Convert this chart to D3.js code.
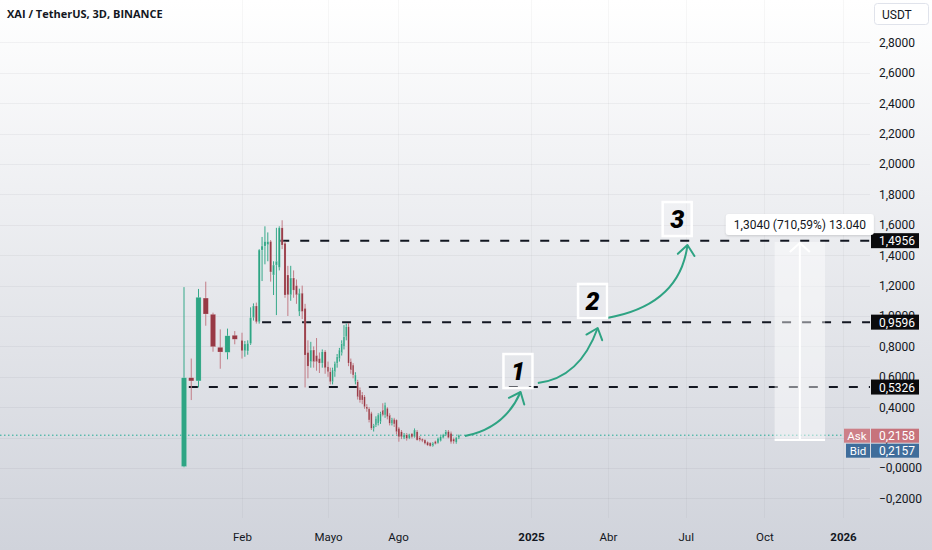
<!DOCTYPE html>
<html>
<head>
<meta charset="utf-8">
<script src="https://cdn.jsdelivr.net/npm/d3@7"></script>
<style>
  body { margin: 0; background: #fff; }
  svg { display: block; font-family: Roboto, "Open Sans", sans-serif; }
</style>
</head>
<body>
<script>
// XAI / USDT, 3 day bars
var firstBar = "2024-01-08";
var barDays = 3;

var opens = [0.01,0.594,0.573,1.118,1.011,0.794,0.761,0.873,0.840,0.772,
  0.77,0.82,0.99,1.066,0.962,1.434,1.46,1.47,1.49,1.27,
  1.335,1.32,1.58,1.478,1.27,1.14,1.25,1.20,1.03,1.15,
  1.05,0.76,0.70,0.776,0.74,0.72,0.69,0.765,0.666,0.633,
  0.568,0.633,0.689,0.72,0.755,0.80,0.864,0.93,0.70,0.677,
  0.568,0.568,0.513,0.48,0.469,0.403,0.39,0.36,0.261,0.283,
  0.294,0.305,0.381,0.349,0.393,0.349,0.294,0.32,0.316,0.261,
  0.239,0.20,0.22,0.197,0.225,0.206,0.239,0.20,0.19,0.184,
  0.17,0.165,0.145,0.175,0.165,0.18,0.20,0.22,0.24,0.228,
  0.19,0.17,0.20];
var highs = [1.19,0.72,1.178,1.226,1.022,0.912,0.917,0.901,0.89,0.836,
  0.84,1.057,1.083,1.088,1.44,1.52,1.59,1.55,1.50,1.36,
  1.58,1.59,1.63,1.49,1.33,1.33,1.30,1.24,1.18,1.20,
  1.08,0.84,0.83,0.80,0.855,0.76,0.78,0.776,0.70,0.66,
  0.66,0.70,0.75,0.79,0.84,0.94,0.95,0.954,0.72,0.69,
  0.63,0.58,0.53,0.50,0.48,0.42,0.40,0.37,0.29,0.34,
  0.36,0.37,0.426,0.43,0.40,0.36,0.33,0.33,0.32,0.27,
  0.25,0.23,0.23,0.225,0.23,0.26,0.25,0.21,0.195,0.19,
  0.175,0.17,0.17,0.18,0.20,0.21,0.225,0.25,0.25,0.24,
  0.20,0.205,0.22];
var lows = [0.005,0.447,0.53,0.936,0.765,0.653,0.715,0.814,0.72,0.732,
  0.745,0.81,0.97,0.95,0.95,1.23,1.34,1.36,1.226,1.138,
  1.006,1.30,1.44,1.12,1.0,1.10,1.12,1.08,1.0,0.98,
  0.53,0.59,0.66,0.66,0.64,0.625,0.66,0.62,0.60,0.55,
  0.55,0.60,0.66,0.70,0.74,0.78,0.84,0.67,0.62,0.59,
  0.55,0.45,0.43,0.42,0.39,0.37,0.30,0.25,0.24,0.27,
  0.28,0.29,0.34,0.33,0.32,0.28,0.28,0.27,0.22,0.173,
  0.19,0.19,0.18,0.19,0.195,0.20,0.18,0.175,0.17,0.155,
  0.145,0.14,0.14,0.155,0.16,0.175,0.195,0.21,0.195,0.16,
  0.16,0.16,0.19];
var closes = [0.594,0.573,1.123,1.013,0.798,0.763,0.870,0.847,0.772,0.816,
  0.82,0.99,1.066,0.962,1.434,1.46,1.49,1.49,1.29,1.335,
  1.36,1.58,1.467,1.138,1.14,1.25,1.17,1.14,1.15,1.03,
  0.743,0.67,0.776,0.70,0.70,0.69,0.765,0.66,0.633,0.568,
  0.645,0.689,0.732,0.776,0.82,0.864,0.93,0.69,0.645,0.612,
  0.612,0.469,0.447,0.447,0.403,0.39,0.316,0.261,0.283,0.327,
  0.349,0.36,0.349,0.414,0.338,0.294,0.32,0.29,0.239,0.206,
  0.206,0.22,0.195,0.217,0.205,0.25,0.184,0.185,0.18,0.162,
  0.15,0.145,0.165,0.16,0.195,0.206,0.22,0.24,0.20,0.173,
  0.175,0.20,0.2158];

// axis ticks
var yTicks = [-0.2,0,0.2,0.4,0.6,0.8,1.0,1.2,1.4,1.6,1.8,2.0,2.2,2.4,2.6,2.8];
var yTickLabels = ["\u22120,2000","\u22120,0000","0,2000","0,4000","0,6000","0,8000","1,0000","1,2000",
  "1,4000","1,6000","1,8000","2,0000","2,2000","2,4000","2,6000","2,8000"];
var xTickDates = ["2024-02-01","2024-05-01","2024-08-01","2025-01-01","2025-04-01","2025-07-01","2025-10-01","2026-01-01"];
var xTickLabels = ["Feb","Mayo","Ago","2025","Abr","Jul","Oct","2026"];
var xTickBold = [false,false,false,true,false,false,false,true];

// horizontal levels
var levelValues = [1.4956, 0.9596, 0.5326];
var levelLabels = ["1,4956", "0,9596", "0,5326"];
var levelFrom = ["2024-03-12", "2024-02-22", "2024-01-10"];

// last price
var askPrice = 0.2158, askLabel = "0,2158";
var bidPrice = 0.2157, bidLabel = "0,2157";

// measure tool
var measureDates = ["2025-10-13", "2025-12-11"];
var measurePrices = [0.1835, 1.4875];
var measureText = "1,3040 (710,59%) 13.040";

// curved arrows: start, control, tip
var arrowStart = [["2024-10-17", 0.21], ["2025-01-09", 0.559], ["2025-03-31", 0.987]];
var arrowCtrl = [["2024-12-02", 0.263], ["2025-02-27", 0.592], ["2025-06-24", 1.072]];
var arrowTip = [["2024-12-20", 0.50], ["2025-03-20", 0.921], ["2025-07-03", 1.467]];

// numbered boxes
var boxDates = ["2024-12-17", "2025-03-14", "2025-06-21"];
var boxPrices = [0.638, 1.099, 1.638];
var boxLabels = ["1", "2", "3"];

var W = 932, H = 550, plotRight = 870;
var parse = d3.timeParse("%Y-%m-%d");

var x = d3.scaleTime()
  .domain(["2024-01-08", "2024-02-01", "2024-05-01", "2024-08-01", "2025-01-01", "2026-01-01"].map(parse))
  .range([184, 242, 328, 398, 531, 843]);
var y = d3.scaleLinear().domain([0, 2.8]).range([468, 42.4]);

var svg = d3.select("body").append("svg").attr("width", W).attr("height", H);

var defs = svg.append("defs");
var grad = defs.append("linearGradient").attr("id", "bg")
  .attr("x1", 0).attr("y1", 0).attr("x2", 0).attr("y2", 1);
grad.append("stop").attr("offset", "0%").attr("stop-color", "#ffffff");
grad.append("stop").attr("offset", "100%").attr("stop-color", "#d0d3db");
var shadow = defs.append("filter").attr("id", "sh").attr("x", "-10%").attr("y", "-30%").attr("width", "120%").attr("height", "160%");
shadow.append("feDropShadow").attr("dx", 0).attr("dy", 1).attr("stdDeviation", 1.2).attr("flood-opacity", 0.15);

svg.append("rect").attr("width", W).attr("height", H).attr("fill", "url(#bg)");

// grid
svg.append("g").selectAll("line").data(yTicks).enter().append("line")
  .attr("x1", 0).attr("x2", plotRight)
  .attr("y1", function(d) { return Math.round(y(d)) + 0.5; })
  .attr("y2", function(d) { return Math.round(y(d)) + 0.5; })
  .attr("stroke", "rgba(42,46,57,0.05)");
svg.append("g").selectAll("line").data(xTickDates).enter().append("line")
  .attr("x1", function(d) { return Math.round(x(parse(d))) + 0.5; })
  .attr("x2", function(d) { return Math.round(x(parse(d))) + 0.5; })
  .attr("y1", 0).attr("y2", 518)
  .attr("stroke", "rgba(42,46,57,0.04)");

// last price dotted line
svg.append("line")
  .attr("x1", 0).attr("x2", plotRight)
  .attr("y1", y(askPrice)).attr("y2", y(askPrice))
  .attr("stroke", "#22ab94").attr("stroke-width", 1)
  .attr("stroke-dasharray", "1.5,2.5");

// dashed levels
svg.append("g").selectAll("line").data(levelValues).enter().append("line")
  .attr("x1", function(d, i) { return x(parse(levelFrom[i])); })
  .attr("x2", plotRight)
  .attr("y1", function(d) { return y(d); })
  .attr("y2", function(d) { return y(d); })
  .attr("stroke", "#131722").attr("stroke-width", 2)
  .attr("stroke-dasharray", "9,11");

// candles
var start = parse(firstBar);
var bars = opens.map(function(o, i) {
  var d = d3.timeDay.offset(start, i * barDays);
  var step = x(d3.timeDay.offset(d, barDays)) - x(d);
  return { date: d, o: o, h: highs[i], l: lows[i], c: closes[i], w: Math.max(1.6, step * 0.72) };
});

var candle = svg.append("g").selectAll("g").data(bars).enter().append("g");
candle.append("line")
  .attr("x1", function(d) { return x(d.date); })
  .attr("x2", function(d) { return x(d.date); })
  .attr("y1", function(d) { return y(d.h); })
  .attr("y2", function(d) { return y(d.l); })
  .attr("stroke", function(d) { return d.c >= d.o ? "#35a889" : "#c27c86"; })
  .attr("stroke-width", 1);
candle.append("rect")
  .attr("x", function(d) { return x(d.date) - d.w / 2; })
  .attr("y", function(d) { return y(Math.max(d.o, d.c)); })
  .attr("width", function(d) { return d.w; })
  .attr("height", function(d) { return Math.max(1, Math.abs(y(d.o) - y(d.c))); })
  .attr("fill", function(d) { return d.c >= d.o ? "#2ea584" : "#983945"; })
  .attr("stroke", "rgba(255,255,255,0.35)").attr("stroke-width", 0.5);

// measure tool
var mx0 = x(parse(measureDates[0])), mx1 = x(parse(measureDates[1]));
var my0 = y(measurePrices[0]), my1 = y(measurePrices[1]);
var mcx = (mx0 + mx1) / 2;
svg.append("rect")
  .attr("x", mx0).attr("y", my1).attr("width", mx1 - mx0).attr("height", my0 - my1)
  .attr("fill", "#ffffff").attr("fill-opacity", 0.45);
svg.append("line").attr("x1", mx0).attr("x2", mx1).attr("y1", my0).attr("y2", my0)
  .attr("stroke", "#fff").attr("stroke-width", 2);
svg.append("line").attr("x1", mcx).attr("x2", mcx).attr("y1", my0).attr("y2", my1 + 1)
  .attr("stroke", "#fff").attr("stroke-width", 2);
svg.append("path")
  .attr("d", "M" + (mcx - 10) + "," + (my1 + 10) + "L" + mcx + "," + (my1 + 1) + "L" + (mcx + 10) + "," + (my1 + 10))
  .attr("fill", "none").attr("stroke", "#fff").attr("stroke-width", 2);

// curved arrows
var arrowColor = "#2ea383";
arrowStart.forEach(function(s, i) {
  var p0 = [x(parse(s[0])), y(s[1])];
  var c = [x(parse(arrowCtrl[i][0])), y(arrowCtrl[i][1])];
  var p2 = [x(parse(arrowTip[i][0])), y(arrowTip[i][1])];
  svg.append("path")
    .attr("d", "M" + p0 + "Q" + c + " " + p2)
    .attr("fill", "none").attr("stroke", arrowColor).attr("stroke-width", 2);
  var dx = p2[0] - c[0], dy = p2[1] - c[1], len = Math.sqrt(dx * dx + dy * dy);
  var ux = dx / len, uy = dy / len, L = 13, a = 40 * Math.PI / 180;
  var h1 = [p2[0] - L * (ux * Math.cos(a) - uy * Math.sin(a)), p2[1] - L * (ux * Math.sin(a) + uy * Math.cos(a))];
  var h2 = [p2[0] - L * (ux * Math.cos(-a) - uy * Math.sin(-a)), p2[1] - L * (ux * Math.sin(-a) + uy * Math.cos(-a))];
  svg.append("path")
    .attr("d", "M" + h1 + "L" + p2 + "L" + h2)
    .attr("fill", "none").attr("stroke", arrowColor).attr("stroke-width", 2)
    .attr("stroke-linecap", "round").attr("stroke-linejoin", "round");
});

// numbered boxes
var nb = svg.append("g").selectAll("g").data(boxLabels).enter().append("g")
  .attr("transform", function(d, i) { return "translate(" + x(parse(boxDates[i])) + "," + y(boxPrices[i]) + ")"; });
nb.append("rect").attr("x", -14.5).attr("y", -17).attr("width", 29).attr("height", 34)
  .attr("fill", "rgba(255,255,255,0.15)").attr("stroke", "#ffffff").attr("stroke-width", 2.5);
nb.append("text").attr("text-anchor", "middle").attr("y", 9)
  .attr("font-size", 25).attr("font-weight", 900).attr("font-style", "italic")
  .attr("fill", "#000").text(function(d) { return d; });

// axes
var yAxis = svg.append("g").attr("transform", "translate(" + plotRight + ",0)")
  .call(d3.axisRight(y).tickValues(yTicks).tickSize(0).tickPadding(9)
    .tickFormat(function(d, i) { return yTickLabels[i]; }));
yAxis.select(".domain").remove();
yAxis.selectAll("text").attr("font-size", 12).attr("fill", "#131722").attr("font-family", "Roboto, sans-serif");

var xAxis = svg.append("g").attr("transform", "translate(0,529)")
  .call(d3.axisBottom(x).tickValues(xTickDates.map(parse)).tickSize(0).tickPadding(4)
    .tickFormat(function(d, i) { return xTickLabels[i]; }));
xAxis.select(".domain").remove();
xAxis.selectAll("text").attr("font-size", 11.5).attr("fill", "#131722").attr("font-family", "Roboto, sans-serif")
  .attr("font-weight", function(d, i) { return xTickBold[i] ? "bold" : "normal"; });

// level price labels
var lv = svg.append("g").selectAll("g").data(levelValues).enter().append("g")
  .attr("transform", function(d) { return "translate(" + (plotRight + 1) + "," + y(d) + ")"; });
lv.append("rect").attr("x", 0).attr("y", -7.5).attr("width", 48).attr("height", 15).attr("fill", "#0b0b0d");
lv.append("text").attr("x", 8).attr("y", 4.5).attr("font-size", 12).attr("fill", "#fff")
  .text(function(d, i) { return levelLabels[i]; });

// ask / bid
var ay = y(askPrice);
var ab = svg.append("g");
ab.append("rect").attr("x", 844).attr("y", ay - 6.5).attr("width", 26).attr("height", 14).attr("fill", "#cd8088");
ab.append("rect").attr("x", 871).attr("y", ay - 6.5).attr("width", 48).attr("height", 14).attr("fill", "#c7737c");
ab.append("text").attr("x", 857).attr("y", ay + 4.5).attr("text-anchor", "middle").attr("font-size", 11.5).attr("fill", "#fff").text("Ask");
ab.append("text").attr("x", 879).attr("y", ay + 4.5).attr("font-size", 12).attr("fill", "#fff").text(askLabel);
ab.append("rect").attr("x", 846).attr("y", ay + 8.5).attr("width", 24).attr("height", 14).attr("fill", "#3f6d9b");
ab.append("rect").attr("x", 871).attr("y", ay + 8.5).attr("width", 48).attr("height", 14).attr("fill", "#3f6d9b");
ab.append("text").attr("x", 858).attr("y", ay + 19.5).attr("text-anchor", "middle").attr("font-size", 11.5).attr("fill", "#fff").text("Bid");
ab.append("text").attr("x", 879).attr("y", ay + 19.5).attr("font-size", 12).attr("fill", "#fff").text(bidLabel);

// measure label
var ml = svg.append("g").attr("transform", "translate(" + mcx + "," + (my1 - 17) + ")");
ml.append("rect").attr("x", -74).attr("y", -11).attr("width", 148).attr("height", 21).attr("rx", 3)
  .attr("fill", "#fff").attr("filter", "url(#sh)");
ml.append("text").attr("text-anchor", "middle").attr("y", 4.3).attr("font-size", 12).attr("fill", "#131722").text(measureText);

// header
svg.append("text").attr("x", 7).attr("y", 18).attr("font-size", 11).attr("font-weight", "bold")
  .attr("font-family", "'Open Sans', sans-serif").attr("fill", "#131722").text("XAI / TetherUS, 3D, BINANCE");
svg.append("rect").attr("x", 874.5).attr("y", 3.5).attr("width", 54).attr("height", 21).attr("rx", 3)
  .attr("fill", "#fff").attr("stroke", "#e0e3eb");
svg.append("text").attr("x", 882).attr("y", 18.5).attr("font-size", 12).attr("fill", "#131722").text("USDT");
</script>
</body>
</html>
